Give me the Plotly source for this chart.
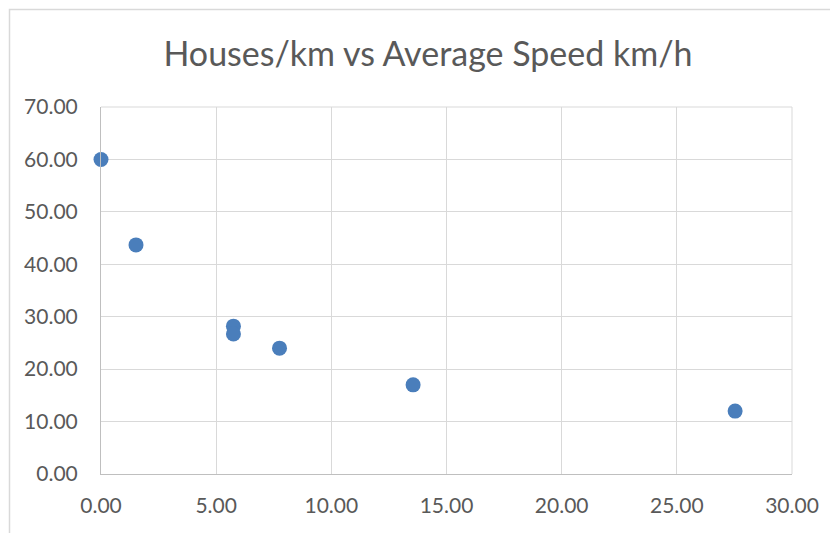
import plotly.graph_objects as go

houses_per_km = [0.0, 1.52, 5.75, 5.75, 7.75, 13.55, 27.53]
avg_speed = [60.0, 43.7, 28.2, 26.7, 24.0, 17.0, 12.0]
x_ticks = [0, 5, 10, 15, 20, 25, 30]
y_ticks = [0, 10, 20, 30, 40, 50, 60, 70]

font_family = "Lato, sans-serif"
grey = "#595959"

# page body has an 8px default margin; margins compensate so the plot area sits at 101..792 x 107..474
L, R, T, B = 93, 54, 99, 67
W, H = 838, 533
pw, ph = W - L - R, H - T - B

fig = go.Figure(go.Scatter(
    x=houses_per_km, y=avg_speed, mode="markers",
    marker=dict(size=15, color="#4a7ebb"),
    cliponaxis=False,
))

fig.update_layout(
    width=W, height=H,
    margin=dict(l=L, r=R, t=T, b=B),
    paper_bgcolor="white", plot_bgcolor="white",
    showlegend=False,
    title=dict(text="Houses/km vs Average Speed km/h", x=(428 - 8) / W, xref="container",
               xanchor="center",
               y=1 - 46 / H, yref="container", yanchor="middle",
               font=dict(family=font_family, size=34, color=grey)),
    font=dict(family=font_family, size=21, color=grey),
    xaxis=dict(range=[0, 30], tickvals=x_ticks,
               ticktext=[f"{v:.2f}" for v in x_ticks],
               showgrid=True, gridcolor="#d9d9d9", gridwidth=1,
               showline=True, linecolor="#bfbfbf", linewidth=1,
               zeroline=False, ticks="", tickfont=dict(size=21, color=grey),
               ticklabelstandoff=13, fixedrange=True),
    yaxis=dict(range=[0, 70], tickvals=y_ticks,
               ticktext=[f"{v:.2f}" for v in y_ticks],
               showgrid=True, gridcolor="#d9d9d9", gridwidth=1,
               showline=True, linecolor="#bfbfbf", linewidth=1,
               zeroline=False, ticks="", tickfont=dict(size=21, color=grey),
               ticklabelstandoff=18, fixedrange=True),
    shapes=[
        dict(type="rect", xref="paper", yref="paper",
             x0=(1.5 - L) / pw, x1=(W + 20 - L) / pw,
             y0=1 - (H + 20 - T) / ph, y1=1 - (1.5 - T) / ph,
             line=dict(color="#d9d9d9", width=1.5), fillcolor="rgba(0,0,0,0)", layer="below"),
        dict(type="line", xref="paper", yref="paper", x0=1, x1=1, y0=0, y1=1,
             line=dict(color="#d9d9d9", width=1)),
        dict(type="line", xref="paper", yref="paper", x0=0, x1=1, y0=1, y1=1,
             line=dict(color="#d9d9d9", width=1)),
    ],
)
fig.write_html("out.html")
